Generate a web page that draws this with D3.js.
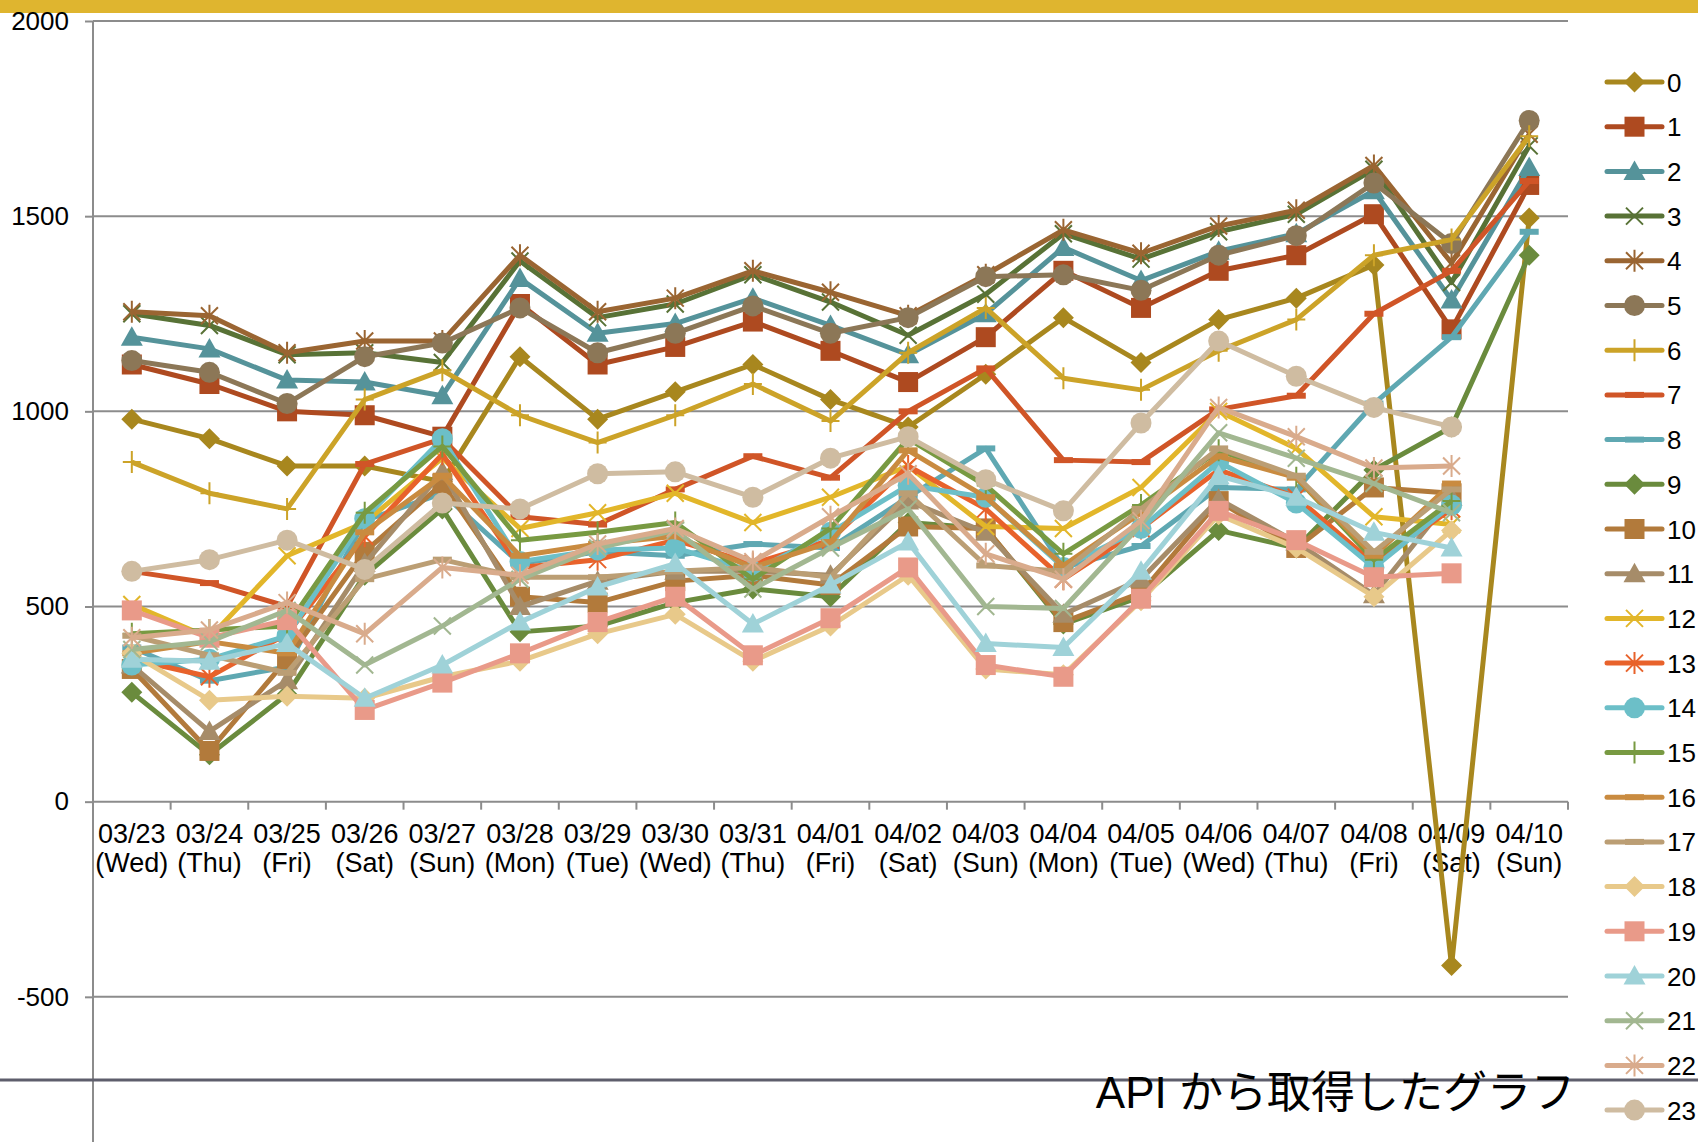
<!DOCTYPE html>
<html lang="ja">
<head>
<meta charset="UTF-8">
<title>API から取得したグラフ</title>
<script src="https://d3js.org/d3.v7.min.js"></script>
<style>
  body { margin: 0; background: #fff; }
  svg { display: block; font-family: "Liberation Sans", Arial, sans-serif; }
</style>
</head>
<body>
<svg width="1698" height="1142"></svg>
<script>
  // categories
  const dates = ["03/23","03/24","03/25","03/26","03/27","03/28","03/29","03/30","03/31","04/01",
                 "04/02","04/03","04/04","04/05","04/06","04/07","04/08","04/09","04/10"];
  const days  = ["(Wed)","(Thu)","(Fri)","(Sat)","(Sun)","(Mon)","(Tue)","(Wed)","(Thu)","(Fri)",
                 "(Sat)","(Sun)","(Mon)","(Tue)","(Wed)","(Thu)","(Fri)","(Sat)","(Sun)"];
  const yTicks = [-500, 0, 500, 1000, 1500, 2000];

  // series values
  const s0  = [980, 930, 860, 860, 820, 1140, 980, 1050, 1120, 1030, 960, 1095, 1240, 1125, 1235, 1290, 1375, -420, 1495];
  const s1  = [1120, 1070, 1000, 990, 935, 1275, 1120, 1165, 1230, 1155, 1075, 1190, 1360, 1265, 1360, 1400, 1505, 1210, 1580];
  const s2  = [1190, 1160, 1080, 1075, 1040, 1340, 1200, 1225, 1290, 1220, 1145, 1250, 1420, 1335, 1410, 1455, 1565, 1285, 1625];
  const s3  = [1250, 1220, 1145, 1150, 1125, 1385, 1240, 1275, 1350, 1280, 1195, 1300, 1455, 1390, 1460, 1505, 1620, 1330, 1680];
  const s4  = [1255, 1245, 1150, 1180, 1180, 1400, 1255, 1290, 1360, 1305, 1245, 1350, 1465, 1405, 1475, 1515, 1630, 1380, 1710];
  const s5  = [1130, 1100, 1020, 1140, 1175, 1265, 1150, 1200, 1270, 1200, 1240, 1345, 1350, 1310, 1400, 1450, 1585, 1430, 1745];
  const s6  = [870, 790, 750, 1030, 1105, 990, 920, 990, 1070, 975, 1150, 1265, 1085, 1055, 1155, 1235, 1400, 1440, 1705];
  const s7  = [590, 560, 500, 865, 930, 730, 710, 800, 885, 830, 1000, 1110, 875, 870, 1005, 1040, 1250, 1360, 1590];
  const s8  = [395, 310, 345, 720, 790, 610, 640, 630, 660, 650, 780, 905, 600, 655, 805, 800, 1020, 1190, 1460];
  const s9  = [280, 120, 275, 580, 750, 435, 450, 510, 545, 525, 715, 700, 455, 525, 695, 650, 850, 960, 1400];
  const s10 = [340, 130, 365, 640, 815, 525, 510, 565, 580, 555, 705, 700, 460, 535, 770, 650, 805, 790];
  const s11 = [350, 180, 310, 610, 845, 500, 565, 590, 590, 580, 770, 690, 480, 570, 775, 665, 530, 780];
  const s12 = [505, 420, 630, 715, 880, 700, 740, 790, 715, 780, 860, 705, 700, 805, 1000, 905, 730, 710];
  const s13 = [365, 320, 430, 680, 890, 600, 620, 670, 610, 670, 860, 750, 570, 700, 850, 780, 610, 750];
  const s14 = [350, 365, 425, 725, 930, 615, 645, 650, 590, 690, 810, 780, 600, 700, 870, 765, 600, 760];
  const s15 = [430, 440, 450, 740, 910, 670, 690, 715, 570, 700, 930, 810, 635, 760, 900, 830, 620, 770];
  const s16 = [380, 410, 380, 690, 835, 630, 660, 680, 600, 665, 900, 780, 605, 740, 885, 830, 630, 815];
  const s17 = [425, 375, 330, 570, 620, 575, 575, 590, 600, 575, 790, 605, 590, 750, 905, 835, 640, 800];
  const s18 = [380, 260, 270, 265, 320, 360, 430, 480, 360, 450, 580, 340, 325, 515, 735, 650, 525, 695];
  const s19 = [490, 420, 465, 235, 305, 380, 460, 525, 375, 470, 600, 350, 320, 520, 745, 670, 575, 585];
  const s20 = [365, 360, 405, 265, 350, 460, 550, 610, 455, 555, 665, 405, 395, 590, 835, 780, 690, 650];
  const s21 = [390, 410, 490, 350, 450, 570, 650, 695, 545, 650, 750, 500, 495, 710, 945, 880, 815, 740];
  const s22 = [420, 440, 510, 430, 600, 580, 660, 700, 615, 730, 840, 635, 570, 720, 1010, 935, 855, 860];
  const s23 = [590, 620, 670, 595, 765, 750, 840, 845, 780, 880, 935, 825, 745, 970, 1180, 1090, 1010, 960];

  const seriesValues = [s0, s1, s2, s3, s4, s5, s6, s7, s8, s9, s10, s11,
                        s12, s13, s14, s15, s16, s17, s18, s19, s20, s21, s22, s23];
  const seriesNames = seriesValues.map((d, i) => String(i));

  const colors = ["#a8871e","#ae4a20","#55939a","#587236","#9a6532","#8c7757","#cca328","#d05527",
                  "#5fa8b2","#6a8b3d","#b27a3b","#a68c69","#e2b62a","#e8622b","#6cbfc8","#789a42",
                  "#c98b40","#bb9e74","#e8c98a","#e99a89","#9fd2d8","#a2b791","#d9ab8c","#cfbca1"];
  const markerCycle = ["diamond","square","triangle","x","star","circle","plus","dash","dash"];

  const svg = d3.select("svg");
  const width = 1698;

  const x = d3.scaleBand().domain(dates).range([93, 1568]);
  const y = d3.scaleLinear().domain([-1000, 2000]).range([1192, 21]);
  const cx = d => x(d) + x.bandwidth() / 2;

  // top bar
  svg.append("rect").attr("x", 0).attr("y", 0).attr("width", width).attr("height", 13).attr("fill", "#dfb52f");

  // gridlines
  svg.append("g").selectAll("line").data(yTicks.filter(t => t !== 0)).join("line")
    .attr("x1", 93).attr("x2", 1568)
    .attr("y1", d => y(d)).attr("y2", d => y(d))
    .attr("stroke", "#8c8c8c").attr("stroke-width", 2);

  // y axis
  const yAxis = svg.append("g").attr("transform", "translate(93,0)")
    .call(d3.axisLeft(y).tickValues(yTicks).tickSize(8).tickPadding(16).tickFormat(d => String(d)));
  yAxis.select(".domain").attr("stroke", "#8c8c8c").attr("stroke-width", 2).attr("d", "M0,21V1192");
  yAxis.selectAll(".tick line").attr("stroke", "#8c8c8c").attr("stroke-width", 2);
  yAxis.selectAll(".tick text").attr("font-size", 26).attr("fill", "#000")
    .attr("font-family", "'Liberation Sans', Arial, sans-serif");

  // x axis at zero
  const x0 = y(0);
  svg.append("line").attr("x1", 93).attr("x2", 1568).attr("y1", x0).attr("y2", x0)
    .attr("stroke", "#8c8c8c").attr("stroke-width", 2);
  svg.append("g").selectAll("line").data(dates.concat(["end"])).join("line")
    .attr("x1", (d, i) => i < dates.length ? x(d) : x.range()[1])
    .attr("x2", (d, i) => i < dates.length ? x(d) : x.range()[1])
    .attr("y1", x0).attr("y2", x0 + 8)
    .attr("stroke", "#8c8c8c").attr("stroke-width", 2);

  const xl = svg.append("g").selectAll("text").data(dates).join("text")
    .attr("x", d => cx(d)).attr("y", x0 + 41)
    .attr("text-anchor", "middle").attr("font-size", 27).attr("fill", "#000");
  xl.append("tspan").attr("x", d => cx(d)).text(d => d);
  xl.append("tspan").attr("x", d => cx(d)).attr("dy", 29).text((d, i) => days[i]);

  // separator line and caption
  svg.append("line").attr("x1", 0).attr("x2", width).attr("y1", 1080).attr("y2", 1080)
    .attr("stroke", "#5e5e6c").attr("stroke-width", 3);
  svg.append("text").attr("x", 1575).attr("y", 1108).attr("text-anchor", "end")
    .attr("font-size", 44).attr("fill", "#000")
    .attr("font-family", "'Liberation Sans', 'Noto Sans CJK JP', sans-serif")
    .text("API から取得したグラフ");

  function drawMarker(g, type, color) {
    if (type === "diamond") {
      g.append("path").attr("d", "M0,-10.5L10.5,0L0,10.5L-10.5,0Z").attr("fill", color);
    } else if (type === "square") {
      g.append("rect").attr("x", -10).attr("y", -10).attr("width", 20).attr("height", 20).attr("fill", color);
    } else if (type === "triangle") {
      g.append("path").attr("d", "M0,-11L11,8.5L-11,8.5Z").attr("fill", color);
    } else if (type === "circle") {
      g.append("circle").attr("r", 10.5).attr("fill", color);
    } else if (type === "x") {
      g.append("path").attr("d", "M-8.5,-8.5L8.5,8.5M-8.5,8.5L8.5,-8.5").attr("stroke", color).attr("stroke-width", 2).attr("fill", "none");
    } else if (type === "star") {
      g.append("path").attr("d", "M-8.5,-8.5L8.5,8.5M-8.5,8.5L8.5,-8.5M0,-11V11").attr("stroke", color).attr("stroke-width", 2).attr("fill", "none");
    } else if (type === "plus") {
      g.append("path").attr("d", "M0,-11V11M-9,0H9").attr("stroke", color).attr("stroke-width", 2).attr("fill", "none");
    } else if (type === "dash") {
      g.append("rect").attr("x", -9.5).attr("y", -3).attr("width", 19).attr("height", 6).attr("fill", color);
    }
  }

  const line = d3.line().x((d, i) => cx(dates[i])).y(d => y(d));

  // series
  seriesValues.forEach((vals, s) => {
    const color = colors[s];
    const type = markerCycle[s % markerCycle.length];
    const g = svg.append("g");
    g.append("path").datum(vals).attr("d", line)
      .attr("fill", "none").attr("stroke", color).attr("stroke-width", 5)
      .attr("stroke-linejoin", "round");
    vals.forEach((v, i) => {
      const m = g.append("g").attr("transform", `translate(${cx(dates[i])},${y(v)})`);
      drawMarker(m, type, color);
    });
  });

  // legend
  const legend = svg.append("g");
  seriesNames.forEach((name, s) => {
    const ly = 82 + 44.7 * s;
    const color = colors[s];
    legend.append("line").attr("x1", 1607).attr("x2", 1662).attr("y1", ly).attr("y2", ly)
      .attr("stroke", color).attr("stroke-width", 5).attr("stroke-linecap", "round");
    const m = legend.append("g").attr("transform", `translate(1634.5,${ly})`);
    drawMarker(m, markerCycle[s % markerCycle.length], color);
    legend.append("text").attr("x", 1667).attr("y", ly + 9.5).attr("font-size", 26).attr("fill", "#000").text(name);
  });
</script>
</body>
</html>
